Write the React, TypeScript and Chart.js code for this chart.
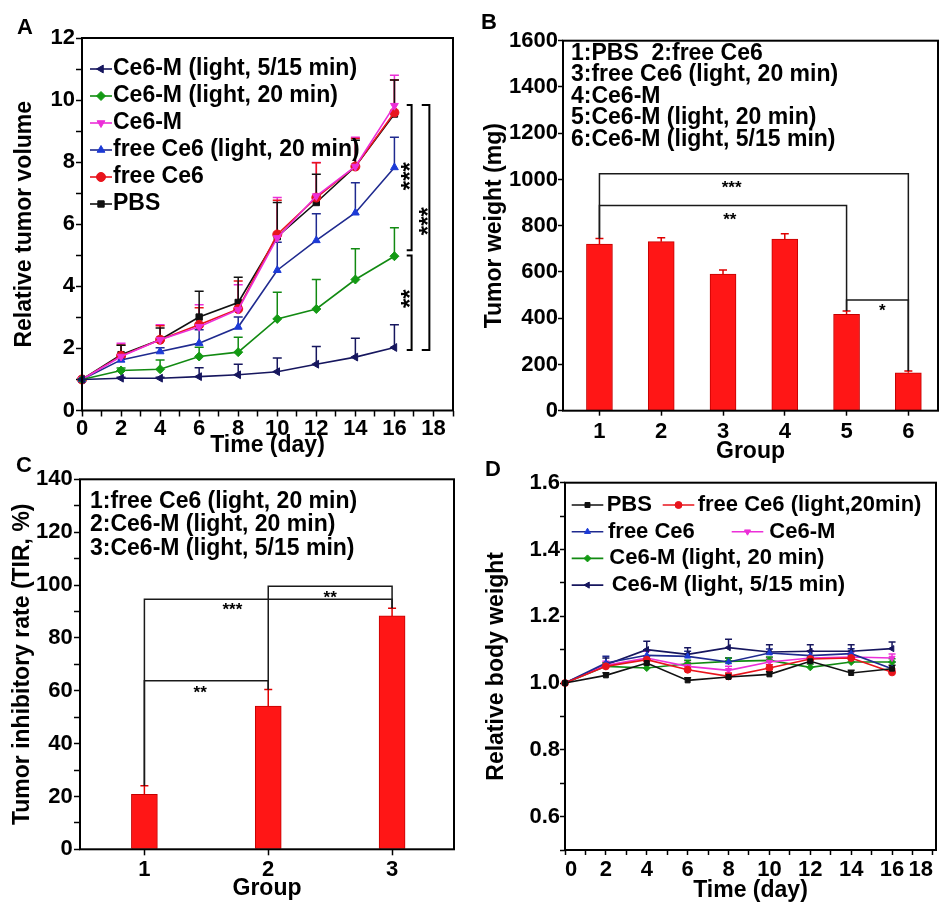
import React, { useEffect, useRef } from 'react';
import { Chart, registerables } from 'chart.js';
import { drawPoint } from 'chart.js/helpers';

Chart.register(...registerables);

const FONT = "'Liberation Sans', Arial, Helvetica, sans-serif";
Chart.defaults.font.family = FONT;
Chart.defaults.color = '#000';

// ================= Panel A: relative tumor volume =================
const daysA = [0, 2, 4, 6, 8, 10, 12, 14, 16];
const volLight515 = [1, 1.04, 1.04, 1.09, 1.15, 1.25, 1.49, 1.72, 2.03];
const volLight515Err = [0, 0.03, 0.03, 0.29, 0.34, 0.44, 0.57, 0.61, 0.73];
const volLight20 = [1, 1.29, 1.33, 1.74, 1.88, 2.95, 3.27, 4.22, 4.97];
const volLight20Err = [0, 0.08, 0.3, 0.3, 0.48, 0.86, 0.95, 0.99, 0.92];
const volCe6M = [1, 1.74, 2.28, 2.7, 3.25, 5.56, 6.91, 7.86, 9.82];
const volCe6MErr = [0, 0.43, 0.48, 0.71, 0.8, 1.3, 1.08, 0.94, 0.98];
const volFreeLight = [1, 1.63, 1.9, 2.17, 2.69, 4.52, 5.48, 6.37, 7.83];
const volFreeLightErr = [0, 0.1, 0.12, 0.43, 0.32, 0.9, 0.86, 0.97, 0.97];
const volFree = [1, 1.76, 2.28, 2.76, 3.27, 5.67, 6.86, 7.86, 9.6];
const volFreeErr = [0, 0.35, 0.45, 0.55, 0.9, 1.1, 1.12, 0.9, 1.05];
const volPBS = [1, 1.8, 2.28, 3.01, 3.48, 5.6, 6.7, 7.86, 9.55];
const volPBSErr = [0, 0.3, 0.38, 0.83, 0.81, 1.1, 0.91, 0.85, 1.1];
// vertical significance brackets: [x (day), cap start (day), y top, y bottom]
const bracketsA = [
  [16.88, 16.63, 9.84, 5.16],
  [16.88, 16.63, 4.99, 1.95],
  [17.79, 17.4, 9.84, 1.95],
];
const starsA: [string, number, number][] = [
  ['***', 16.49, 7.55],
  ['***', 17.44, 6.1],
  ['**', 16.49, 3.6],
];

// ================= Panel B: tumor weight =================
const groupsB = [1, 2, 3, 4, 5, 6];
const tumorWeight = [721, 731, 591, 742, 417, 164];
const tumorWeightErr = [24, 17, 17, 23, 14, 8];
const legendB = [
  '1:PBS  2:free Ce6',
  '3:free Ce6 (light, 20 min)',
  '4:Ce6-M',
  '5:Ce6-M (light, 20 min)',
  '6:Ce6-M (light, 5/15 min)',
];
const bracketsB = [
  [1, 6, 1025],
  [1, 5, 887],
  [5, 6, 479],
];
const starsB: [string, number, number][] = [
  ['***', 3.14, 983],
  ['**', 3.11, 846],
  ['*', 5.58, 450],
];

// ================= Panel C: tumor inhibitory rate =================
const groupsC = [1, 2, 3];
const tir = [20.8, 54.2, 88.3];
const tirErr = [3.2, 6.3, 2.9];
const legendC = [
  '1:free Ce6 (light, 20 min)',
  '2:Ce6-M (light, 20 min)',
  '3:Ce6-M (light, 5/15 min)',
];
const bracketsC = [
  [2, 3, 99.5],
  [1, 3, 94.6],
  [1, 2, 63.8],
];
const starsC: [string, number, number][] = [
  ['**', 2.5, 96.9],
  ['***', 1.71, 92.2],
  ['**', 1.45, 61.0],
];

// ================= Panel D: relative body weight =================
const daysD = [0, 2, 4, 6, 8, 10, 12, 14, 16];
const dayTicksD = [0, 1, 2, 3, 4, 5, 6, 7, 8, 9, 10, 11, 12, 13, 14, 15, 16, 17, 18];
const bwPBS = [1.0, 1.023, 1.06, 1.008, 1.018, 1.026, 1.065, 1.03, 1.043];
const bwPBSErr = [0, 0.008, 0.01, 0.008, 0.008, 0.008, 0.01, 0.008, 0.01];
const bwFreeLight = [1.0, 1.05, 1.07, 1.04, 1.02, 1.045, 1.072, 1.075, 1.032];
const bwFreeLightErr = [0, 0.01, 0.01, 0.01, 0.01, 0.01, 0.01, 0.01, 0.01];
const bwFree = [1.0, 1.06, 1.083, 1.08, 1.063, 1.09, 1.082, 1.088, 1.043];
const bwFreeErr = [0, 0.02, 0.015, 0.015, 0.012, 0.012, 0.015, 0.015, 0.02];
const bwCe6M = [1.0, 1.053, 1.075, 1.05, 1.038, 1.063, 1.075, 1.078, 1.075];
const bwCe6MErr = [0, 0.012, 0.02, 0.012, 0.012, 0.012, 0.02, 0.015, 0.012];
const bwLight20 = [1.0, 1.05, 1.045, 1.058, 1.065, 1.068, 1.047, 1.063, 1.063];
const bwLight20Err = [0, 0.01, 0.01, 0.01, 0.01, 0.01, 0.01, 0.01, 0.01];
const bwLight515 = [1.0, 1.055, 1.1, 1.086, 1.106, 1.093, 1.095, 1.095, 1.103];
const bwLight515Err = [0, 0.02, 0.025, 0.02, 0.025, 0.022, 0.02, 0.02, 0.02];

// ================= Styles =================
const STYLE: Record<string, any> = {
  black: { line: '#111111', point: '#111111', shape: 'rect', rot: 0 },
  red: { line: '#e8141c', point: '#e8141c', shape: 'circle', rot: 0 },
  blue: { line: '#1f2a8f', point: '#1c3ad6', shape: 'triangle', rot: 0 },
  magenta: { line: '#ec2fd8', point: '#ec2fd8', shape: 'triangle', rot: 180 },
  green: { line: '#128a12', point: '#139a13', shape: 'rectRot', rot: 0 },
  navy: { line: '#16165e', point: '#16165e', shape: 'triangle', rot: -90 },
};
const BAR_FILL = '#ff1616';
const BAR_EDGE = '#c40000';

const seriesA = [
  { label: 'Ce6-M (light, 5/15 min)', values: volLight515, err: volLight515Err, style: STYLE.navy },
  { label: 'Ce6-M (light, 20 min)', values: volLight20, err: volLight20Err, style: STYLE.green },
  { label: 'Ce6-M', values: volCe6M, err: volCe6MErr, style: STYLE.magenta },
  { label: 'free Ce6 (light, 20 min)', values: volFreeLight, err: volFreeLightErr, style: STYLE.blue },
  { label: 'free Ce6', values: volFree, err: volFreeErr, style: STYLE.red },
  { label: 'PBS', values: volPBS, err: volPBSErr, style: STYLE.black },
];

const seriesD = [
  { label: 'PBS', values: bwPBS, err: bwPBSErr, style: STYLE.black },
  { label: 'free Ce6 (light,20min)', values: bwFreeLight, err: bwFreeLightErr, style: STYLE.red },
  { label: 'free Ce6', values: bwFree, err: bwFreeErr, style: STYLE.blue },
  { label: 'Ce6-M', values: bwCe6M, err: bwCe6MErr, style: STYLE.magenta },
  { label: 'Ce6-M (light, 20 min)', values: bwLight20, err: bwLight20Err, style: STYLE.green },
  { label: 'Ce6-M (light, 5/15 min)', values: bwLight515, err: bwLight515Err, style: STYLE.navy },
];
// legend placement for D (row, symbol start offset, text offset) relative to plot left
const legendPlaceD = [
  [0, 6.7, 41.7],
  [0, 97.7, 132.7],
  [1, 6.7, 43],
  [1, 166.7, 204.3],
  [2, 6.7, 44.3],
  [3, 6.7, 46.7],
];

// ================= Helpers =================
function makeAxis(dir: 'x' | 'y', cfg: any) {
  const a: any = {
    type: 'linear',
    position: dir === 'x' ? 'bottom' : 'left',
    min: cfg.min,
    max: cfg.max,
    bounds: 'data',
    offset: false,
    ticks: {
      stepSize: cfg.step,
      autoSkip: false,
      maxRotation: 0,
      minRotation: 0,
      padding: cfg.tickPad,
      color: '#000',
      align: cfg.align || 'center',
      font: { family: FONT, size: 22, weight: 'bold', lineHeight: 1 },
      callback: (v: any) => cfg.label(Number(v)),
    },
    grid: {
      display: true,
      drawOnChartArea: false,
      drawTicks: true,
      tickLength: cfg.tickLen,
      tickColor: '#000',
      tickWidth: 1.5,
      offset: false,
    },
    border: { display: false },
    title: {
      display: true,
      text: cfg.title,
      color: '#000',
      font: { family: FONT, size: 23, weight: 'bold', lineHeight: 1 },
      padding: { top: cfg.titlePad, bottom: cfg.titlePad },
    },
    afterFit: (s: any) => {
      if (dir === 'x') s.height = cfg.size;
      else s.width = cfg.size;
      s.paddingLeft = 0;
      s.paddingRight = 0;
      s.paddingTop = 0;
      s.paddingBottom = 0;
    },
  };
  if (cfg.tickValues) {
    a.afterBuildTicks = (s: any) => {
      s.ticks = cfg.tickValues.map((v: number) => ({ value: v }));
    };
  }
  return a;
}

function baseOptions(padding: any, scales: any) {
  return {
    responsive: false,
    animation: false,
    events: [],
    layout: { padding },
    plugins: { legend: { display: false }, tooltip: { enabled: false }, title: { display: false } },
    scales,
  };
}

function lineDataset(s: any, xs: number[], radius: number) {
  return {
    label: s.label,
    data: xs.map((d, i) => ({ x: d, y: s.values[i] })),
    errors: s.err,
    errorColor: s.style.line,
    errorCap: radius,
    borderColor: s.style.line,
    backgroundColor: s.style.point,
    pointBackgroundColor: s.style.point,
    pointBorderColor: s.style.point,
    pointStyle: s.style.shape,
    pointRotation: s.style.rot,
    pointRadius: radius,
    pointBorderWidth: 1,
    borderWidth: 1.6,
    tension: 0,
    fill: false,
    clip: false,
  };
}

const errorBarsPlugin = {
  id: 'errorBars',
  beforeDatasetsDraw(chart: any) {
    const { ctx } = chart;
    const xs = chart.scales.x;
    const ys = chart.scales.y;
    chart.data.datasets.forEach((ds: any) => {
      if (!ds.errors) return;
      ctx.save();
      ctx.strokeStyle = ds.errorColor || ds.borderColor;
      ctx.lineWidth = 1.5;
      const cap = ds.errorCap || 4;
      ds.data.forEach((p: any, i: number) => {
        const e = ds.errors[i];
        if (!e) return;
        const px = xs.getPixelForValue(p.x);
        const y0 = ys.getPixelForValue(p.y);
        const y1 = ys.getPixelForValue(p.y + e);
        ctx.beginPath();
        ctx.moveTo(px, y0);
        ctx.lineTo(px, y1);
        ctx.moveTo(px - cap, y1);
        ctx.lineTo(px + cap, y1);
        ctx.stroke();
      });
      ctx.restore();
    });
  },
};

function overlay(id: string, draw: (chart: any) => void) {
  return { id, afterDraw: (chart: any) => draw(chart) };
}

function drawFrame(ctx: any, ca: any) {
  ctx.save();
  ctx.strokeStyle = '#000';
  ctx.lineWidth = 2;
  ctx.strokeRect(ca.left, ca.top, ca.right - ca.left, ca.bottom - ca.top);
  ctx.restore();
}

function drawText(ctx: any, str: string, x: number, y: number, size: number) {
  ctx.save();
  ctx.fillStyle = '#000';
  ctx.font = `bold ${size}px ${FONT}`;
  ctx.textAlign = 'left';
  ctx.textBaseline = 'middle';
  ctx.fillText(str, x, y);
  ctx.restore();
}

function drawStars(ctx: any, str: string, x: number, y: number, size: number, rotate: boolean) {
  ctx.save();
  ctx.fillStyle = '#000';
  ctx.font = `bold ${size}px ${FONT}`;
  ctx.textAlign = 'center';
  ctx.textBaseline = 'alphabetic';
  ctx.translate(x, y);
  if (rotate) ctx.rotate(-Math.PI / 2);
  ctx.fillText(str, 0, size * 0.57);
  ctx.restore();
}

function legendSymbol(ctx: any, x1: number, x2: number, y: number, st: any, radius: number) {
  ctx.save();
  ctx.strokeStyle = st.line;
  ctx.lineWidth = 1.6;
  ctx.beginPath();
  ctx.moveTo(x1, y);
  ctx.lineTo(x2, y);
  ctx.stroke();
  ctx.fillStyle = st.point;
  ctx.strokeStyle = st.point;
  ctx.lineWidth = 1;
  drawPoint(ctx, { pointStyle: st.shape, rotation: st.rot, radius, borderWidth: 1 } as any, (x1 + x2) / 2, y);
  ctx.restore();
}

function drawBarBrackets(chart: any, brackets: number[][], groups: number[], vals: number[], errs: number[]) {
  const { ctx } = chart;
  const xs = chart.scales.x;
  const ys = chart.scales.y;
  const topOf = (g: number) => {
    const i = groups.indexOf(g);
    return ys.getPixelForValue(vals[i] + errs[i]);
  };
  ctx.save();
  ctx.strokeStyle = '#1a1a1a';
  ctx.lineWidth = 1.5;
  brackets.forEach(([a, b, lvl]) => {
    const xa = xs.getPixelForValue(a);
    const xb = xs.getPixelForValue(b);
    const yl = ys.getPixelForValue(lvl);
    ctx.beginPath();
    ctx.moveTo(xa, topOf(a));
    ctx.lineTo(xa, yl);
    ctx.lineTo(xb, yl);
    ctx.lineTo(xb, topOf(b));
    ctx.stroke();
  });
  ctx.restore();
}

// ================= Panel draw functions =================
function drawA(chart: any) {
  const { ctx, chartArea: ca } = chart;
  const xs = chart.scales.x;
  const ys = chart.scales.y;
  drawFrame(ctx, ca);
  seriesA.forEach((s, i) => {
    const yy = ca.top + 31 + i * 27;
    legendSymbol(ctx, ca.left + 8, ca.left + 30, yy, s.style, 4.5);
    drawText(ctx, s.label, ca.left + 31, yy, 23);
  });
  ctx.save();
  ctx.strokeStyle = '#000';
  ctx.lineWidth = 2;
  bracketsA.forEach(([bx, cx, yt, yb]) => {
    const X = xs.getPixelForValue(bx);
    const C = xs.getPixelForValue(cx);
    const T = ys.getPixelForValue(yt);
    const B = ys.getPixelForValue(yb);
    ctx.beginPath();
    ctx.moveTo(C, T);
    ctx.lineTo(X, T);
    ctx.lineTo(X, B);
    ctx.lineTo(C, B);
    ctx.stroke();
  });
  ctx.restore();
  starsA.forEach(([t, sx, sy]) => drawStars(ctx, t, xs.getPixelForValue(sx), ys.getPixelForValue(sy), 24, true));
}

function drawB(chart: any) {
  const { ctx, chartArea: ca } = chart;
  const xs = chart.scales.x;
  const ys = chart.scales.y;
  drawFrame(ctx, ca);
  legendB.forEach((t, i) => drawText(ctx, t, ca.left + 8, ca.top + 12.8 + i * 21.5, 23));
  drawBarBrackets(chart, bracketsB, groupsB, tumorWeight, tumorWeightErr);
  starsB.forEach(([t, sx, sy]) => drawStars(ctx, t, xs.getPixelForValue(sx), ys.getPixelForValue(sy), 17, false));
}

function drawC(chart: any) {
  const { ctx, chartArea: ca } = chart;
  const xs = chart.scales.x;
  const ys = chart.scales.y;
  drawFrame(ctx, ca);
  legendC.forEach((t, i) => drawText(ctx, t, ca.left + 10, ca.top + 22.4 + i * 23.3, 23));
  drawBarBrackets(chart, bracketsC, groupsC, tir, tirErr);
  starsC.forEach(([t, sx, sy]) => drawStars(ctx, t, xs.getPixelForValue(sx), ys.getPixelForValue(sy), 17, false));
}

function drawD(chart: any) {
  const { ctx, chartArea: ca } = chart;
  drawFrame(ctx, ca);
  seriesD.forEach((s, i) => {
    const [row, sx, tx] = legendPlaceD[i];
    const yy = ca.top + 22.3 + row * 26.7;
    legendSymbol(ctx, ca.left + sx, ca.left + sx + 31.6, yy, s.style, 3.5);
    drawText(ctx, s.label, ca.left + tx, yy, 22);
  });
}

// ================= Chart builders =================
function buildA() {
  return {
    type: 'line',
    data: { datasets: seriesA.map((s) => lineDataset(s, daysA, 4.5)) },
    options: baseOptions({ left: 0, top: 38, right: 17, bottom: 0 }, {
      x: makeAxis('x', {
        min: 0, max: 19, step: 1, size: 59.5, tickLen: 6, tickPad: 1,
        label: (v: number) => (Number.isInteger(v) && v % 2 === 0 ? String(v) : ''),
        title: 'Time (day)', titlePad: 12.5,
      }),
      y: makeAxis('y', {
        min: 0, max: 12, step: 1, size: 82, tickLen: 6, tickPad: 1,
        label: (v: number) => (Number.isInteger(v) && v % 2 === 0 ? String(v) : ''),
        title: 'Relative tumor volume', titlePad: 13.5,
      }),
    }),
    plugins: [errorBarsPlugin, overlay('overlayA', drawA)],
  };
}

function barDataset(groups: number[], vals: number[], errs: number[]) {
  return {
    data: groups.map((g, i) => ({ x: g, y: vals[i] })),
    errors: errs,
    errorColor: '#e00000',
    errorCap: 4,
    backgroundColor: BAR_FILL,
    borderColor: BAR_EDGE,
    borderWidth: 1,
    barThickness: 26,
  };
}

function buildB() {
  return {
    type: 'bar',
    data: { datasets: [barDataset(groupsB, tumorWeight, tumorWeightErr)] },
    options: baseOptions({ left: 0, top: 40.7, right: 3, bottom: 0 }, {
      x: makeAxis('x', {
        min: 0.41, max: 6.48, step: 1, tickValues: groupsB, size: 59.3, tickLen: 5, tickPad: 5.3,
        label: (v: number) => String(v), title: 'Group', titlePad: 7,
      }),
      y: makeAxis('y', {
        min: 0, max: 1600, step: 200, size: 93, tickLen: 5, tickPad: 0,
        label: (v: number) => String(v), title: 'Tumor weight (mg)', titlePad: 13.5,
      }),
    }),
    plugins: [errorBarsPlugin, overlay('overlayB', drawB)],
  };
}

function buildC() {
  return {
    type: 'bar',
    data: { datasets: [barDataset(groupsC, tir, tirErr)] },
    options: baseOptions({ left: 0, top: 24.3, right: 16, bottom: 0 }, {
      x: makeAxis('x', {
        min: 0.48, max: 3.5, step: 1, tickValues: groupsC, size: 53.7, tickLen: 6, tickPad: 3.7,
        label: (v: number) => String(v), title: 'Group', titlePad: 2.5,
      }),
      y: makeAxis('y', {
        min: 0, max: 140, step: 10, size: 80, tickLen: 6, tickPad: 1.3,
        label: (v: number) => (v % 20 === 0 ? String(v) : ''),
        title: 'Tumor inhibitory rate (TIR, %)', titlePad: 11.5,
      }),
    }),
    plugins: [errorBarsPlugin, overlay('overlayC', drawC)],
  };
}

function buildD() {
  return {
    type: 'line',
    data: { datasets: seriesD.map((s) => lineDataset(s, daysD, 3.5)) },
    options: baseOptions({ left: 0, top: 27.7, right: 1, bottom: 0 }, {
      x: makeAxis('x', {
        min: 0, max: 18.15, step: 1, tickValues: dayTicksD, size: 53, tickLen: 5, tickPad: 4,
        align: 'inner',
        label: (v: number) => (Number.isInteger(v) && v % 2 === 0 ? String(v) : ''),
        title: 'Time (day)', titlePad: 0.5,
      }),
      y: makeAxis('y', {
        min: 0.5, max: 1.6, step: 0.1, size: 95, tickLen: 5, tickPad: 0,
        label: (v: number) => {
          const r = Math.round(v * 10);
          return r % 2 === 0 && r >= 6 ? (r / 10).toFixed(1) : '';
        },
        title: 'Relative body weight', titlePad: 15.2,
      }),
    }),
    plugins: [errorBarsPlugin, overlay('overlayD', drawD)],
  };
}

// ================= Components =================
function Panel({ left, top, width, height, build }: any) {
  const ref = useRef<HTMLCanvasElement>(null);
  useEffect(() => {
    const chart = new Chart(ref.current as HTMLCanvasElement, build() as any);
    return () => chart.destroy();
  }, []);
  return (
    <canvas
      ref={ref}
      width={width}
      height={height}
      style={{ position: 'absolute', left, top, width, height }}
    />
  );
}

function Letter({ left, top, children }: any) {
  return (
    <div
      style={{
        position: 'absolute', left, top, fontFamily: FONT, fontWeight: 'bold',
        fontSize: 22, lineHeight: '22px', color: '#000',
      }}
    >
      {children}
    </div>
  );
}

export default function App() {
  return (
    <div style={{ position: 'absolute', left: 0, top: 0, width: 941, height: 903, overflow: 'hidden', background: '#fff' }}>
      <Panel left={0} top={0} width={470} height={470} build={buildA} />
      <Panel left={470} top={0} width={471} height={470} build={buildB} />
      <Panel left={0} top={455} width={470} height={448} build={buildC} />
      <Panel left={470} top={455} width={471} height={448} build={buildD} />
      <Letter left={17} top={16}>A</Letter>
      <Letter left={481} top={11}>B</Letter>
      <Letter left={16} top={454}>C</Letter>
      <Letter left={485} top={458}>D</Letter>
    </div>
  );
}
